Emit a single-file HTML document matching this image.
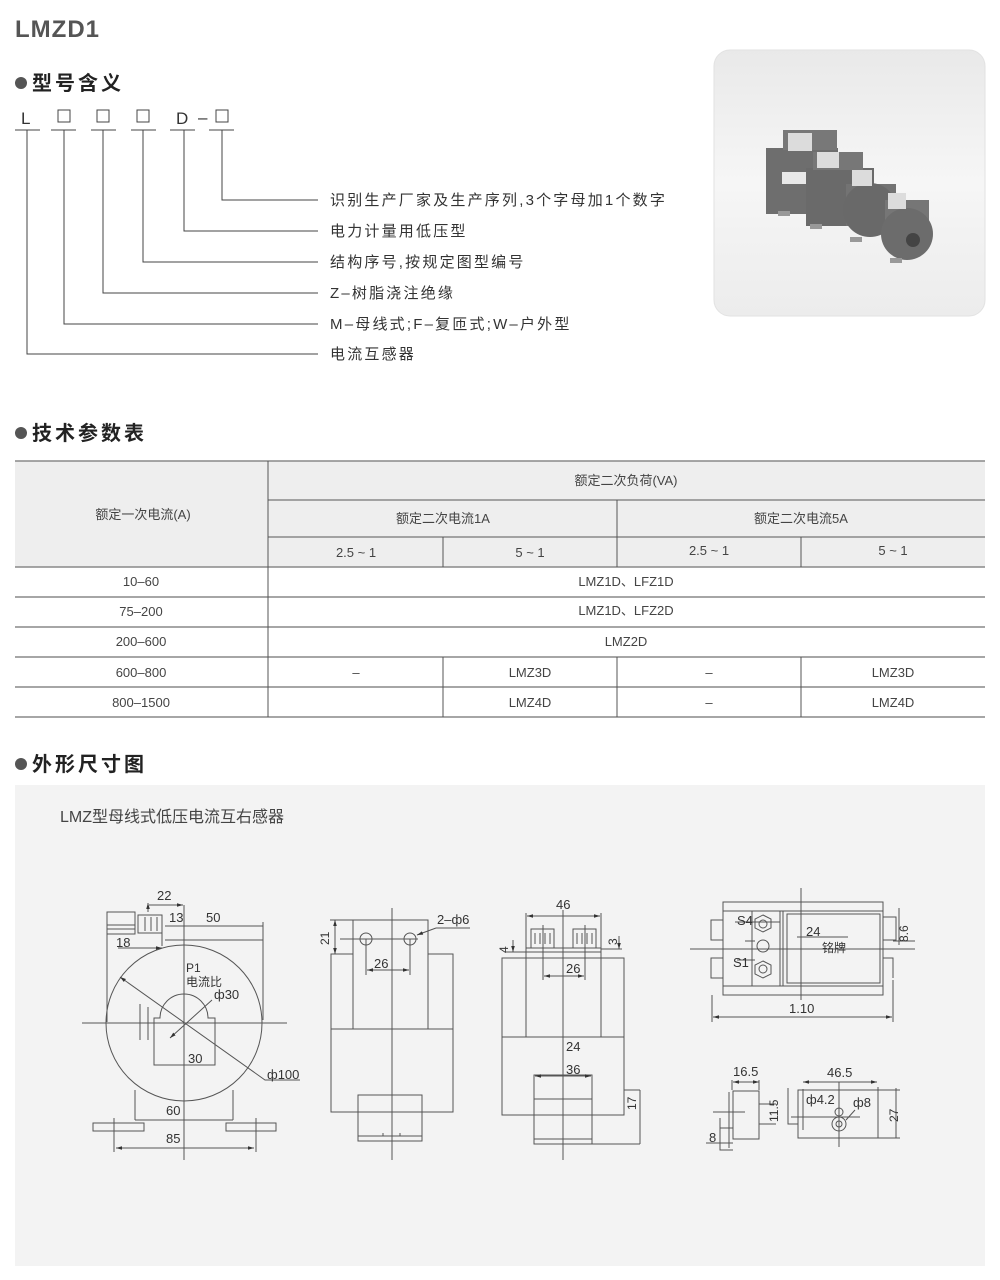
<!DOCTYPE html>
<html><head><meta charset="utf-8"><style>
html,body{margin:0;padding:0;background:#fff;}
svg{display:block;}
text{font-family:"Liberation Sans","Noto Sans CJK SC",sans-serif;}
</style></head><body>
<svg width="1000" height="1280" viewBox="0 0 1000 1280" xmlns="http://www.w3.org/2000/svg">
<defs>
<linearGradient id="pg" x1="0" y1="0" x2="0" y2="1"><stop offset="0" stop-color="#e9e9e9"/><stop offset="0.5" stop-color="#f6f6f6"/><stop offset="1" stop-color="#ececec"/></linearGradient>
<marker id="a" viewBox="0 0 10 10" refX="10" refY="5" markerWidth="6" markerHeight="6" orient="auto-start-reverse"><path d="M0,2 L10,5 L0,8z" fill="#333"/></marker>
</defs>
<text x="15" y="37" font-size="24" font-weight="bold" fill="#555" letter-spacing="1">LMZD1</text>
<!-- section 1 -->
<circle cx="21" cy="83" r="6" fill="#555"/>
<text x="32" y="90" font-size="20" font-weight="bold" fill="#222" letter-spacing="3">型号含义</text>
<g font-size="17" fill="#333">
<text x="21" y="124">L</text>
<text x="176" y="124">D</text>
<text x="198" y="123">–</text>
</g>
<g fill="none" stroke="#444" stroke-width="1">
<rect x="58" y="110" width="12" height="12"/><rect x="97" y="110" width="12" height="12"/><rect x="137" y="110" width="12" height="12"/><rect x="216" y="110" width="12" height="12"/>
<path d="M15 130H40M51 130H76M91 130H116M131 130H156M170 130H195M209 130H234"/>
<path d="M27 130V354H318M64 130V324H318M103 130V293H318M143 130V262H318M184 130V231H318M222 130V200H318"/>
</g>
<g font-size="15" fill="#333" letter-spacing="2.2">
<text x="330" y="205">识别生产厂家及生产序列,3个字母加1个数字</text>
<text x="330" y="236">电力计量用低压型</text>
<text x="330" y="267">结构序号,按规定图型编号</text>
<text x="330" y="298">Z–树脂浇注绝缘</text>
<text x="330" y="329">M–母线式;F–复匝式;W–户外型</text>
<text x="330" y="359">电流互感器</text>
</g>
<!-- photo -->
<rect x="714" y="50" width="271" height="266" rx="16" fill="url(#pg)" stroke="#e2e2e2"/>
<g fill="#6e6e6e">
<rect x="766" y="148" width="72" height="66"/><rect x="783" y="130" width="54" height="20" fill="#787878"/>
<rect x="782" y="172" width="24" height="12" fill="#e8e8e8"/>
<rect x="806" y="168" width="68" height="58" fill="#6a6a6a"/><rect x="813" y="152" width="50" height="18" fill="#777"/>
<rect x="846" y="184" width="50" height="42" fill="#737373"/><circle cx="870" cy="210" r="27" fill="#696969"/>
<rect x="885" y="200" width="44" height="40" fill="#767676"/><circle cx="907" cy="234" r="26" fill="#6c6c6c"/>
<circle cx="913" cy="240" r="7" fill="#444"/>
<rect x="788" y="133" width="24" height="18" fill="#dcdcdc"/><rect x="817" y="152" width="22" height="16" fill="#dcdcdc"/><rect x="852" y="170" width="20" height="16" fill="#dcdcdc"/><rect x="888" y="193" width="18" height="16" fill="#dcdcdc"/>
<rect x="778" y="211" width="12" height="5" fill="#999"/><rect x="810" y="224" width="12" height="5" fill="#999"/><rect x="850" y="237" width="12" height="5" fill="#999"/><rect x="890" y="258" width="12" height="5" fill="#999"/>
</g>
<!-- section 2 -->
<circle cx="21" cy="433" r="6" fill="#555"/>
<text x="32" y="440" font-size="20" font-weight="bold" fill="#222" letter-spacing="3">技术参数表</text>
<rect x="15" y="461" width="970" height="106" fill="#eeeeee"/>
<g stroke="#888" stroke-width="1.5" fill="none">
<path d="M15 461H985M268 500H985M268 537H985M15 567H985M15 597H985M15 627H985M15 657H985M15 687H985M15 717H985"/>
</g>
<g stroke="#555" stroke-width="1" fill="none">
<path d="M268 461V717M617 500V567M443 537V567M801 537V567M443 657V717M617 657V717M801 657V717"/>
</g>
<g font-size="13" fill="#444" text-anchor="middle">
<text x="143" y="519">额定一次电流(A)</text>
<text x="626" y="485">额定二次负荷(VA)</text>
<text x="443" y="523">额定二次电流1A</text>
<text x="801" y="523">额定二次电流5A</text>
<text x="356" y="557">2.5 ~ 1</text><text x="530" y="557">5 ~ 1</text><text x="709" y="555">2.5 ~ 1</text><text x="893" y="555">5 ~ 1</text>
<text x="141" y="586">10–60</text><text x="626" y="586">LMZ1D、LFZ1D</text>
<text x="141" y="616">75–200</text><text x="626" y="615">LMZ1D、LFZ2D</text>
<text x="141" y="646">200–600</text><text x="626" y="646">LMZ2D</text>
<text x="141" y="677">600–800</text><text x="356" y="677">–</text><text x="530" y="677">LMZ3D</text><text x="709" y="677">–</text><text x="893" y="677">LMZ3D</text>
<text x="141" y="707">800–1500</text><text x="530" y="707">LMZ4D</text><text x="709" y="707">–</text><text x="893" y="707">LMZ4D</text>
</g>
<!-- section 3 -->
<circle cx="21" cy="764" r="6" fill="#555"/>
<text x="32" y="771" font-size="20" font-weight="bold" fill="#222" letter-spacing="3">外形尺寸图</text>
<rect x="15" y="785" width="970" height="481" fill="#f3f3f3"/>
<text x="60" y="822" font-size="16" fill="#444">LMZ型母线式低压电流互右感器</text>
<g stroke="#555" stroke-width="1" fill="none">
<!-- drawing 1 -->
<rect x="107" y="912" width="28" height="22"/><path d="M107 925H135M107 929H135"/>
<rect x="138" y="915" width="24" height="18"/><path d="M145 917V931M151 917V931M157 917V931"/>
<path d="M162 915V946M165 926H263M165 940H263M263 922V1020M107 934V1022"/>
<circle cx="184" cy="1023" r="78"/>
<path d="M154 1065V1018H160A24 24 0 0 1 208 1018H215V1065Z"/>
<path d="M82 1023H287M184 905V1160M140 1004V1040M148 1007V1040"/>
<path d="M135 1090V1120M233 1090V1120M135 1120H233"/>
<rect x="93" y="1123" width="51" height="8"/><rect x="226" y="1123" width="50" height="8"/>
<path d="M114 1118V1152M256 1118V1152"/>
<path d="M116 1148H254" marker-start="url(#a)" marker-end="url(#a)"/>
<path d="M148 903V912M149 905H183" marker-start="url(#a)" marker-end="url(#a)"/>
<path d="M118 948H162" marker-end="url(#a)"/>
<path d="M120 977L265 1080H300" marker-start="url(#a)"/>
<path d="M212 1000L170 1038" marker-end="url(#a)"/>
<!-- drawing 2 -->
<rect x="353" y="920" width="75" height="109"/>
<path d="M353 954H331V1112H453V954H428M331 1029H453"/>
<rect x="358" y="1095" width="64" height="46"/><path d="M358 1136H422M383 1133V1136M400 1133V1136"/>
<path d="M392 908V1160M340 939H418M366 939V975M410 939V975"/>
<circle cx="366" cy="939" r="6"/><circle cx="410" cy="939" r="6"/>
<path d="M335 920V954" marker-start="url(#a)" marker-end="url(#a)"/>
<path d="M330 920H353"/>
<path d="M367 970H409" marker-start="url(#a)" marker-end="url(#a)"/>
<path d="M436 928L417 935" marker-end="url(#a)"/><path d="M436 928H470"/>
<!-- drawing 3 -->
<rect x="526" y="952" width="75" height="85"/>
<rect x="502" y="958" width="122" height="157"/><path d="M502 1037H624"/>
<rect x="531" y="929" width="23" height="19"/><rect x="573" y="929" width="23" height="19"/>
<path d="M535 933V944M540 933V944M545 933V944M550 933V944M577 933V944M582 933V944M587 933V944M592 933V944"/>
<path d="M526 948H601M526 913V952M601 913V952"/>
<rect x="534" y="1075" width="58" height="69"/><path d="M534 1099H592M534 1139H592"/>
<path d="M563 910V1160M543 925V980M585 925V980"/>
<path d="M527 916H600" marker-start="url(#a)" marker-end="url(#a)"/>
<path d="M544 976H584" marker-start="url(#a)" marker-end="url(#a)"/>
<path d="M535 1076H591" marker-start="url(#a)" marker-end="url(#a)"/>
<path d="M513 940V952" marker-end="url(#a)"/><path d="M506 952H526"/>
<path d="M619 936V949" marker-end="url(#a)"/><path d="M601 949H622"/>
<path d="M592 1144H640M640 1090V1144M624 1090H640"/>
<!-- drawing 4 -->
<rect x="723" y="902" width="160" height="93"/>
<path d="M723 911H883M723 986H883M752 911V986M780 911V986M783 911V986"/>
<rect x="787" y="914" width="93" height="69"/>
<path d="M723 920H711V940H723M723 958H711V978H723M883 917H896V940H883M883 958H893V978"/>
<polygon points="763,915 771,919 771,928 763,932 755,928 755,919"/><circle cx="763" cy="924" r="4"/>
<polygon points="763,961 771,965 771,974 763,978 755,974 755,965"/><circle cx="763" cy="969" r="4"/>
<circle cx="763" cy="946" r="6"/>
<path d="M690 949H915M801 888V1000M735 922H780M737 960H755M745 941H755M797 937H848M893 941H915M899 908V945"/>
<path d="M712 995V1022M893 980V1022"/>
<path d="M713 1017H892" marker-start="url(#a)" marker-end="url(#a)"/>
<!-- drawing 5 -->
<rect x="733" y="1091" width="26" height="48"/>
<path d="M729 1092V1148M732 1080V1090M759 1080V1090"/>
<path d="M733 1082H759" marker-start="url(#a)" marker-end="url(#a)"/>
<path d="M713 1112H745M720 1118V1150H733M720 1128H733M706 1143H733M759 1104H776M759 1124H776"/>
<rect x="798" y="1090" width="80" height="48"/>
<path d="M788 1088V1124H798M791 1117H860M803 1089V1130M878 1087V1128M878 1090H900M878 1138H900M896 1088V1138M839 1082V1147"/>
<path d="M803 1082H877" marker-start="url(#a)" marker-end="url(#a)"/>
<circle cx="839" cy="1112" r="4"/><circle cx="839" cy="1124" r="7"/><circle cx="839" cy="1124" r="3"/>
<path d="M846 1120L855 1110"/>
</g>
<g font-size="13" fill="#333">
<text x="157" y="900">22</text><text x="169" y="922">13</text><text x="206" y="922">50</text><text x="116" y="947">18</text>
<text x="186" y="972" font-size="12">P1</text><text x="186" y="986" font-size="12">电流比</text><text x="214" y="999">ф30</text>
<text x="188" y="1063">30</text><text x="267" y="1079">ф100</text><text x="166" y="1115">60</text><text x="166" y="1143">85</text>
<text x="374" y="968">26</text><text x="437" y="924">2–ф6</text>
<text x="329" y="945" transform="rotate(-90 329 945)" font-size="12">21</text>
<text x="556" y="909">46</text><text x="566" y="973">26</text><text x="566" y="1051">24</text><text x="566" y="1074">36</text>
<text x="508" y="953" transform="rotate(-90 508 953)" font-size="12">4</text>
<text x="617" y="945" transform="rotate(-90 617 945)" font-size="12">3</text>
<text x="636" y="1110" transform="rotate(-90 636 1110)" font-size="12">17</text>
<text x="737" y="925">S4</text><text x="733" y="967">S1</text><text x="806" y="936">24</text><text x="822" y="952" font-size="12">铭牌</text>
<text x="908" y="942" transform="rotate(-90 908 942)" font-size="12">8.6</text>
<text x="789" y="1013">1.10</text>
<text x="733" y="1076">16.5</text><text x="827" y="1077">46.5</text>
<text x="778" y="1122" transform="rotate(-90 778 1122)" font-size="12">11.5</text>
<text x="709" y="1142">8</text><text x="806" y="1104">ф4.2</text><text x="853" y="1107">ф8</text>
<text x="898" y="1122" transform="rotate(-90 898 1122)" font-size="12">27</text>
</g>
</svg>
</body></html>
